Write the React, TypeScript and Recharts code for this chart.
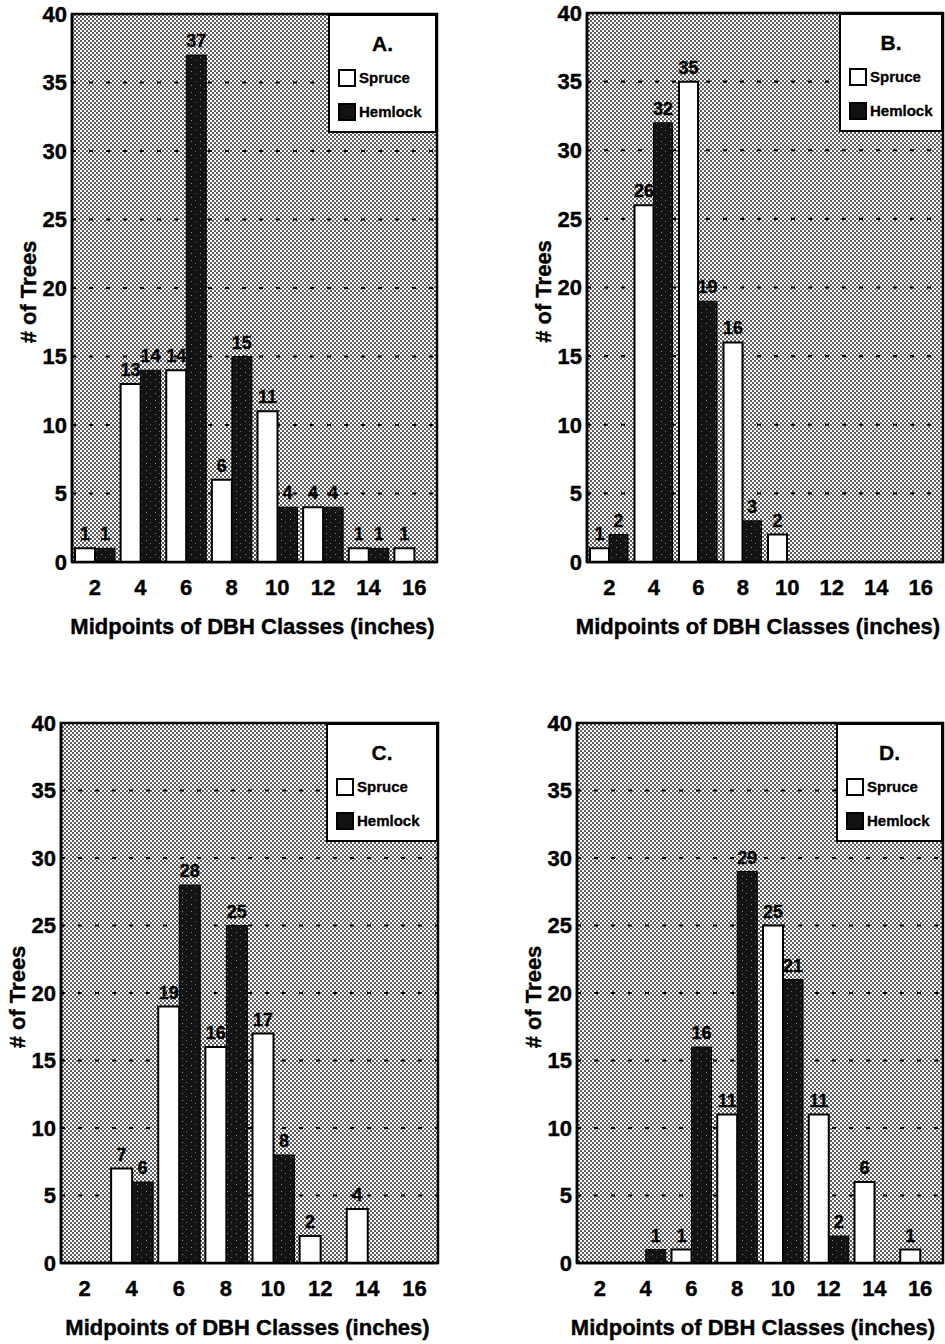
import { BarChart, Bar, XAxis, YAxis, CartesianGrid, Legend, Label, LabelList, ReferenceArea } from "recharts";

const FONT = '"Liberation Sans", Arial, Helvetica, sans-serif';

const dbhClasses = ["2", "4", "6", "8", "10", "12", "14", "16"];
const yTicks = [0, 5, 10, 15, 20, 25, 30, 35, 40];

const spruceA = [1, 13, 14, 6, 11, 4, 1, 1];
const hemlockA = [1, 14, 37, 15, 4, 4, 1, 0];
const spruceB = [1, 26, 35, 16, 2, 0, 0, 0];
const hemlockB = [2, 32, 19, 3, 0, 0, 0, 0];
const spruceC = [0, 7, 19, 16, 17, 2, 4, 0];
const hemlockC = [0, 6, 28, 25, 8, 0, 0, 0];
const spruceD = [0, 0, 1, 11, 25, 11, 6, 1];
const hemlockD = [0, 1, 16, 29, 21, 2, 0, 0];

const hideZero = (v: any) => (v ? v : "");

function LegendBox({ letter, w }: { letter: string; w: number }) {
  const row = (label: string, fill: string, cy: number) => (
    <div style={{ position: "absolute", left: 8, top: cy - 9, height: 18, display: "flex", alignItems: "center" }}>
      <div style={{ boxSizing: "border-box", width: 18, height: 18, background: fill, border: "2px solid #000" }} />
      <span style={{ marginLeft: 3, fontSize: 15, lineHeight: "18px", WebkitTextStroke: "0.3px #000" }}>{label}</span>
    </div>
  );
  return (
    <div
      style={{
        position: "relative",
        boxSizing: "border-box",
        width: w,
        height: 119,
        background: "#fff",
        border: "2px solid #000",
        fontFamily: FONT,
        fontWeight: 700,
        color: "#000",
      }}
    >
      <div style={{ position: "absolute", left: 0, right: 0, top: 17, textAlign: "center", fontSize: 21, lineHeight: "22px", WebkitTextStroke: "0.3px #000" }}>
        {letter}
      </div>
      {row("Spruce", "#fff", 62)}
      {row("Hemlock", "#111", 96)}
    </div>
  );
}

type PanelProps = {
  id: string;
  letter: string;
  spruce: number[];
  hemlock: number[];
  x: number;
  y: number;
  w: number;
  h: number;
  pl: number;
  pr: number;
  pt: number;
  pb: number;
  legendW: number;
  titleShift: number;
};

function Panel({ id, letter, spruce, hemlock, x, y, w, h, pl, pr, pt, pb, legendW, titleShift }: PanelProps) {
  const data = dbhClasses.map((c, i) => ({ dbh: c, Spruce: spruce[i], Hemlock: hemlock[i] }));
  const plotW = pr - pl;
  const plotH = pb - pt;
  const tickStyle = { fill: "#000", fontSize: 22, fontWeight: 700, fontFamily: FONT, stroke: "#000", strokeWidth: 0.4 };
  const titleStyle = { fill: "#000", fontSize: 22, fontWeight: 700, fontFamily: FONT, stroke: "#000", strokeWidth: 0.4 } as any;

  return (
    <div style={{ position: "absolute", left: x, top: y, width: w, height: h }}>
      <BarChart
        width={w}
        height={h}
        data={data}
        margin={{ top: pt, right: w - pr, bottom: 0, left: 0 }}
        barCategoryGap={3}
        barGap={0}
      >
        <defs>
          <pattern id={`dots-${id}`} width={4} height={4} patternUnits="userSpaceOnUse">
            <rect width={4} height={4} fill="#fafafa" />
            <rect width={2} height={2} fill="#5e5e5e" />
            <rect x={2} y={2} width={2} height={2} fill="#5e5e5e" />
          </pattern>
          <pattern id={`speck-${id}`} width={9} height={7} patternUnits="userSpaceOnUse">
            <rect width={9} height={7} fill="#131313" />
            <rect x={2} y={1} width={1} height={1} fill="#8a8a8a" />
            <rect x={6} y={4} width={1} height={1} fill="#666" />
          </pattern>
        </defs>
        <CartesianGrid
          vertical={false}
          fill={`url(#dots-${id})`}
          stroke="#000"
          strokeWidth={2.2}
          strokeDasharray="4 13"
        />
        <XAxis
          dataKey="dbh"
          height={h - pb}
          interval={0}
          tickLine={false}
          tickSize={0}
          tickMargin={17}
          axisLine={{ stroke: "#000", strokeWidth: 2.5 }}
          tick={tickStyle}
        >
          <Label
            value="Midpoints of DBH Classes (inches)"
            content={() => (
              <text
                x={pl + plotW / 2 + titleShift}
                y={pb + 64}
                textAnchor="middle"
                dominantBaseline="central"
                style={titleStyle}
              >
                Midpoints of DBH Classes (inches)
              </text>
            )}
          />
        </XAxis>
        <YAxis
          width={pl}
          type="number"
          domain={[0, 40]}
          ticks={yTicks}
          interval={0}
          tickLine={false}
          tickSize={0}
          tickMargin={5}
          axisLine={{ stroke: "#000", strokeWidth: 2.5 }}
          tick={tickStyle}
        >
          <Label
            value="# of Trees"
            content={() => (
              <text
                x={pl - 44}
                y={pt + plotH / 2 + 4}
                transform={`rotate(-90 ${pl - 44} ${pt + plotH / 2 + 4})`}
                textAnchor="middle"
                dominantBaseline="central"
                style={titleStyle}
              >
                # of Trees
              </text>
            )}
          />
        </YAxis>
        <Bar dataKey="Spruce" fill="#fff" stroke="#000" strokeWidth={2} isAnimationActive={false}>
          <LabelList
            dataKey="Spruce"
            position="top"
            offset={8}
            formatter={hideZero}
            fill="#000"
            stroke="#000"
            strokeWidth={0.3}
            fontSize={18}
            fontWeight={700}
            fontFamily={FONT}
          />
        </Bar>
        <Bar dataKey="Hemlock" fill={`url(#speck-${id})`} stroke="#000" strokeWidth={1} isAnimationActive={false}>
          <LabelList
            dataKey="Hemlock"
            position="top"
            offset={8}
            formatter={hideZero}
            fill="#000"
            stroke="#000"
            strokeWidth={0.3}
            fontSize={18}
            fontWeight={700}
            fontFamily={FONT}
          />
        </Bar>
        <ReferenceArea y1={0} y2={40} fill="none" stroke="#000" strokeWidth={2.5} />
        <Legend
          layout="vertical"
          align="center"
          verticalAlign="middle"
          wrapperStyle={{ left: pr - legendW, top: pt, width: legendW, height: 119 }}
          content={() => <LegendBox letter={letter} w={legendW} />}
        />
      </BarChart>
    </div>
  );
}

export default function App() {
  return (
    <div style={{ position: "absolute", left: 0, top: 0, width: 945, height: 1344, background: "#fff", overflow: "hidden" }}>
      <Panel id="a" letter="A." spruce={spruceA} hemlock={hemlockA} x={0} y={0} w={470} h={672} pl={72} pr={437} pt={14} pb={562} legendW={109} titleShift={-2} />
      <Panel id="b" letter="B." spruce={spruceB} hemlock={hemlockB} x={470} y={0} w={475} h={672} pl={117} pr={473} pt={13} pb={562} legendW={104} titleShift={-7} />
      <Panel id="c" letter="C." spruce={spruceC} hemlock={hemlockC} x={0} y={672} w={470} h={672} pl={61} pr={438} pt={51} pb={591} legendW={112} titleShift={-2} />
      <Panel id="d" letter="D." spruce={spruceD} hemlock={hemlockD} x={470} y={672} w={475} h={672} pl={107} pr={473} pt={51} pb={591} legendW={107} titleShift={-7} />
    </div>
  );
}
